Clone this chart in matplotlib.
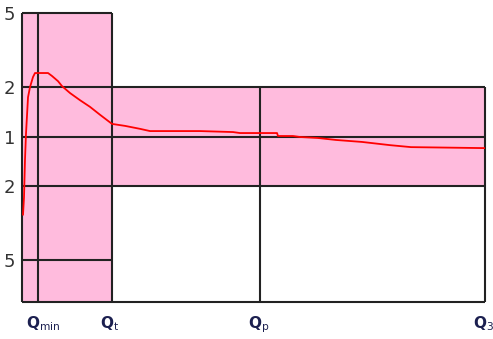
import matplotlib.pyplot as plt
import matplotlib.transforms as mtransforms

# flow points (arbitrary units, Q3 = 100)
q_min = 3.5
q_t = 19.5
q_p = 51.5
q_3 = 100.0

# error limits (%)
err_low = 5
err_high = 2
y_bottom = -6.7

y_ticks = [5, 2, 0, -2, -5]
y_tick_labels = ['5', '2', '1', '2', '5']
x_tick_labels = ['Q$_{\\mathrm{min}}$', 'Q$_{\\mathrm{t}}$', 'Q$_{\\mathrm{p}}$', 'Q$_{\\mathrm{3}}$']

# measured error curve
curve_q = [0.22, 0.43, 0.65, 0.86, 1.30, 1.73, 2.38, 2.81, 5.62, 6.48, 7.78, 8.64,
           10.37, 12.53, 14.69, 16.85, 19.44, 22.25, 25.49, 27.65, 38.44, 45.57,
           47.08, 55.08, 55.29, 58.53, 60.04, 63.93, 67.82, 73.43, 79.48, 84.02, 100.0]
curve_err = [-3.16, -2.47, -0.92, 0.10, 1.59, 2.00, 2.41, 2.57, 2.57, 2.45, 2.24, 2.04,
             1.76, 1.47, 1.20, 0.88, 0.51, 0.43, 0.31, 0.22, 0.22, 0.18,
             0.14, 0.14, 0.02, 0.02, -0.02, -0.06, -0.14, -0.22, -0.35, -0.43, -0.47]

pink = '#ffbbdd'
grid = '#222222'
lw = 1.5

fig = plt.figure(figsize=(4.93, 3.39), dpi=100)
ax = fig.add_axes([22 / 493, 37 / 339, 463 / 493, 289 / 339])

ax.fill_between([0, q_t], y_bottom, err_low, color=pink, lw=0)
ax.fill_between([q_t, q_3], -err_high, err_high, color=pink, lw=0)

ax.hlines([err_high, 0, -err_high], 0, q_3, color=grid, lw=lw, clip_on=False)
ax.hlines([err_low, -err_low], 0, q_t, color=grid, lw=lw, clip_on=False)
ax.vlines([0, q_min, q_t], y_bottom, err_low, color=grid, lw=lw, clip_on=False)
ax.vlines([q_p, q_3], y_bottom, err_high, color=grid, lw=lw, clip_on=False)
ax.hlines([y_bottom], 0, q_3, color=grid, lw=lw, clip_on=False)

ax.plot(curve_q, curve_err, color='#ff0000', lw=1.3)

ax.set_xlim(0, q_3)
ax.set_ylim(y_bottom, err_low)
for s in ax.spines.values():
    s.set_visible(False)

ax.set_yticks(y_ticks)
ax.set_yticklabels(y_tick_labels, fontsize=13, color='#333333')
ax.set_xticks([q_min, q_t, q_p, q_3])
ax.set_xticklabels(x_tick_labels, fontsize=11, fontweight='bold', color='#1c2050', ha='left')
ax.tick_params(length=0)
ax.tick_params(axis='y', pad=5)
ax.tick_params(axis='x', pad=9)

offset = mtransforms.ScaledTranslation(-12 / 100, 0, fig.dpi_scale_trans)
for lbl in ax.get_xticklabels():
    lbl.set_transform(lbl.get_transform() + offset)

fig.savefig('out.png', dpi=100)
